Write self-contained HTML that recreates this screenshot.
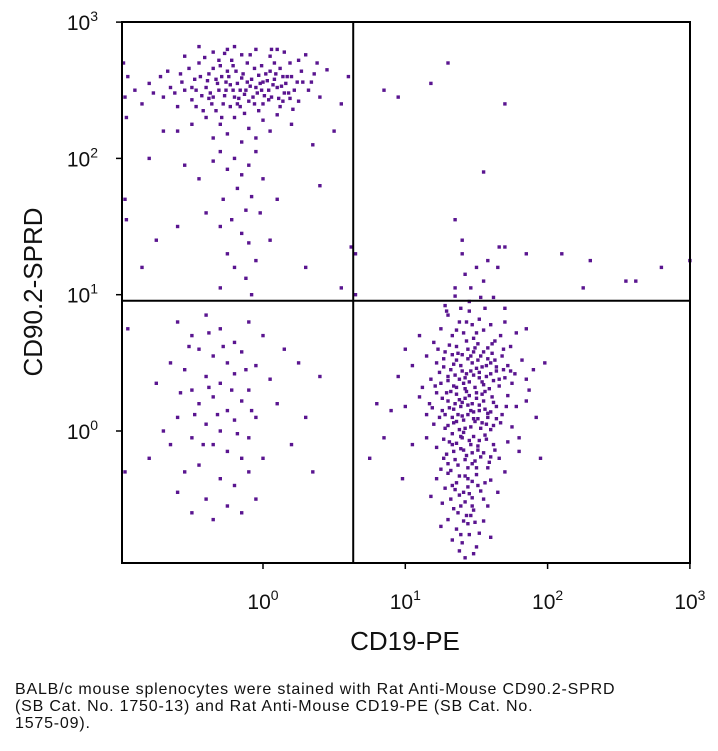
<!DOCTYPE html>
<html><head><meta charset="utf-8"><style>
body{margin:0;background:#fff;width:718px;height:751px;overflow:hidden;font-family:"Liberation Sans",sans-serif}
.cap{position:absolute;left:15px;top:681px;font-size:16px;letter-spacing:0.8px;line-height:17px;color:#111;width:700px;white-space:nowrap}
</style></head><body>
<svg id="chart" width="718" height="680" style="position:absolute;left:0;top:0" font-family="Liberation Sans, sans-serif"></svg>
<div class="cap">BALB/c mouse splenocytes were stained with Rat Anti-Mouse CD90.2-SPRD<br>(SB Cat. No. 1750-13) and Rat Anti-Mouse CD19-PE (SB Cat. No.<br>1575-09).</div>
<script>
const xTicks=[0,1,2,3];
const yTicks=[0,1,2,3];
const gateX=0.634, gateY=0.956;
const bCells=[[1.35,1.05],[1.55,1.1],[1.45,0.95],[1.62,0.98],[1.28,0.92],[1.5,1.2],[1.58,1.25],[1.42,1.15],[1.66,1.35],[1.4,1.3],[1.7,0.9],
[1.3,0.85],[1.38,0.8],[1.45,0.88],[1.52,0.82],[1.6,0.78],[1.25,0.75],[1.33,0.7],[1.41,0.72],[1.48,0.68],[1.55,0.74],[1.63,0.66],[1.7,0.8],[1.78,0.72],[1.2,0.65],[1.36,0.62],[1.44,0.6],[1.51,0.64],[1.58,0.61],[1.67,0.7],[1.85,0.75],[1.1,0.7],[1.29,0.88],[1.47,0.78],[1.56,0.9],[1.74,0.62],
[1.15,0.55],[1.22,0.5],[1.28,0.58],[1.32,0.45],[1.36,0.52],[1.4,0.56],[1.43,0.42],[1.47,0.5],[1.5,0.46],[1.53,0.55],[1.57,0.4],[1.6,0.5],[1.64,0.44],[1.68,0.55],[1.72,0.48],[1.77,0.42],[1.82,0.52],[1.9,0.45],[1.05,0.48],[1.18,0.38],[1.25,0.35],[1.3,0.4],[1.34,0.33],[1.38,0.38],[1.42,0.31],[1.45,0.36],[1.49,0.32],[1.52,0.39],[1.55,0.34],[1.59,0.31],[1.62,0.37],[1.66,0.33],[1.7,0.39],[1.75,0.35],[1.85,0.38],[1.27,0.47],[1.39,0.48],[1.44,0.53],[1.48,0.58],[1.54,0.47],[1.61,0.57],[1.35,0.41],[1.46,0.44],[1.51,0.52],[1.41,0.35],[1.57,0.48],[1.63,0.52],[1.33,0.56],[1.24,0.43],[1.69,0.45],[1.12,0.32],[0.95,0.4],[1.98,0.5],
[1.1,0.25],[1.17,0.2],[1.22,0.28],[1.26,0.15],[1.3,0.22],[1.33,0.1],[1.36,0.27],[1.39,0.18],[1.42,0.24],[1.44,0.12],[1.47,0.2],[1.5,0.28],[1.52,0.15],[1.55,0.22],[1.58,0.1],[1.61,0.25],[1.64,0.18],[1.68,0.12],[1.72,0.26],[1.78,0.18],[1.85,0.22],[1.2,0.05],[1.28,0.02],[1.34,0.06],[1.38,0.01],[1.41,0.08],[1.46,0.03],[1.49,0.07],[1.53,0.02],[1.57,0.05],[1.62,0.04],[1.67,0.06],[1.75,0.03],[1.31,0.17],[1.37,0.12],[1.43,0.29],[1.48,0.14],[1.51,0.09],[1.56,0.16],[1.4,0.21],[1.45,0.26],[1.35,0.2],[1.54,0.27],[1.6,0.14],[1.29,0.28],[1.24,0.1],[1.15,0.12],[1.0,0.18],[0.9,0.15],[1.92,0.1],
[1.15,-0.05],[1.22,-0.12],[1.27,-0.2],[1.31,-0.08],[1.34,-0.15],[1.37,-0.25],[1.4,-0.05],[1.43,-0.18],[1.46,-0.1],[1.49,-0.22],[1.52,-0.07],[1.55,-0.16],[1.58,-0.27],[1.62,-0.1],[1.66,-0.2],[1.72,-0.08],[1.8,-0.15],[1.25,-0.28],[1.33,-0.02],[1.39,-0.13],[1.44,-0.27],[1.48,-0.04],[1.51,-0.14],[1.56,-0.03],[1.36,-0.09],[1.42,-0.21],[1.3,-0.24],[1.6,-0.19],[1.05,-0.1],[1.95,-0.2],[1.41,-0.01],[1.47,-0.16],
[1.22,-0.35],[1.28,-0.42],[1.32,-0.5],[1.36,-0.38],[1.39,-0.55],[1.42,-0.33],[1.45,-0.46],[1.48,-0.58],[1.51,-0.4],[1.55,-0.5],[1.6,-0.36],[1.65,-0.45],[1.3,-0.31],[1.38,-0.47],[1.44,-0.41],[1.5,-0.32],[1.34,-0.57],[1.58,-0.55],[1.7,-0.3],[1.18,-0.48],[1.42,-0.52],[1.47,-0.37],[1.26,-0.53],
[1.3,-0.65],[1.36,-0.72],[1.4,-0.82],[1.44,-0.68],[1.48,-0.9],[1.52,-0.75],[1.38,-0.88],[1.46,-0.62],[1.33,-0.8],[1.55,-0.66],[1.42,-0.93],[1.5,-0.85],[1.25,-0.7],[1.6,-0.78],
[0.85,-0.05],[0.75,-0.2],[0.8,0.2],[1.8,-0.05],[1.87,0.3],[0.98,-0.35],[1.0,0.6],
[1.31,0.63],[1.37,0.57],[1.43,0.66],[1.49,0.61],[1.55,0.58],[1.61,0.64],[1.27,0.53],[1.34,0.49],[1.4,0.44],[1.46,0.55],[1.52,0.43],[1.58,0.53],[1.64,0.47],[1.3,0.37],[1.36,0.32],[1.42,0.39],[1.48,0.41],[1.54,0.36],[1.6,0.42],[1.66,0.38],[1.26,0.24],[1.32,0.29],[1.38,0.23],[1.44,0.19],[1.5,0.24],[1.56,0.29],[1.62,0.21],[1.28,0.12],[1.34,0.16],[1.4,0.11],[1.46,0.15],[1.52,0.19],[1.58,0.13],[1.64,0.09],[1.3,0.04],[1.36,0.07],[1.42,0.02],[1.48,0.09],[1.54,0.06],[1.6,0.01],[1.27,-0.06],[1.33,-0.1],[1.39,-0.04],[1.45,-0.07],[1.51,-0.11],[1.57,-0.06],[1.63,-0.14],[1.29,-0.17],[1.35,-0.21],[1.41,-0.14],[1.47,-0.24],[1.53,-0.19],[1.59,-0.23],[1.32,-0.29],[1.38,-0.33],[1.44,-0.35],[1.5,-0.27],[1.56,-0.38],[1.35,-0.43],[1.41,-0.45],[1.47,-0.49],[1.53,-0.44],[1.37,-0.6],[1.43,-0.62],[1.49,-0.67],[1.45,-0.76],[1.39,-0.76],[1.41,-0.66],[1.47,-0.55],[1.33,-0.4],[1.21,0.33],[1.19,0.17],[1.71,0.18],[1.74,0.44],[1.69,0.6],[1.23,0.6],[1.36,0.74],[1.5,0.72],[1.43,0.8],[1.39,0.9],[1.53,0.98],[1.46,1.05],[1.35,0.99]];
const tCells=[[-0.9,2.5],[-0.85,2.4],[-0.95,2.6],[-0.8,2.55],[-0.7,2.45],[-0.72,2.6],[-0.65,2.52],[-0.6,2.38],[-0.58,2.62],[-0.55,2.5],[-0.5,2.43],[-0.48,2.58],[-0.45,2.7],[-0.42,2.35],[-0.4,2.52],[-0.38,2.62],[-0.35,2.45],[-0.32,2.55],[-0.3,2.68],[-0.28,2.4],[-0.26,2.5],[-0.24,2.6],[-0.22,2.72],[-0.2,2.45],[-0.18,2.55],[-0.16,2.38],[-0.14,2.62],[-0.12,2.5],[-0.1,2.42],[-0.08,2.58],[-0.06,2.66],[-0.04,2.48],[-0.02,2.55],[0.0,2.4],[0.02,2.62],[0.04,2.5],[0.06,2.45],[0.08,2.58],[0.1,2.52],[0.12,2.66],[0.14,2.42],[0.16,2.55],[0.18,2.48],[0.2,2.6],[0.22,2.5],[0.25,2.42],[0.28,2.56],[0.32,2.5],[0.36,2.62],[0.4,2.45],
[-0.35,2.78],[-0.25,2.8],[-0.15,2.76],[-0.05,2.8],[0.05,2.75],[0.15,2.78],[0.25,2.72],[-0.45,2.82],[-0.55,2.75],[0.1,2.8],[-0.2,2.82],[0.3,2.76],
[-0.4,2.3],[-0.3,2.25],[-0.2,2.3],[-0.1,2.22],[0.0,2.28],[0.1,2.32],[-0.25,2.18],[-0.15,2.12],[-0.05,2.15],[0.05,2.2],[-0.35,2.15],[-0.5,2.25],[-0.6,2.2],[0.2,2.25],
[-0.3,2.05],[-0.2,2.0],[-0.1,1.95],[-0.15,1.88],[-0.05,2.05],[-0.25,1.92],[-0.35,1.98],[0.0,1.85],[-0.18,1.78],[-0.08,1.72],[-0.28,1.7],[-0.12,1.62],[-0.22,1.55],[-0.02,1.6],[-0.3,1.5],[-0.15,1.45],[-0.1,1.38],[-0.25,1.3],[-0.05,1.25],[-0.2,1.2],[-0.12,1.12],[-0.3,1.05],[-0.08,1.0],[-0.4,1.6],[0.05,1.4],[-0.45,1.85],[0.1,1.7],[-0.55,1.95],
[-0.37,2.48],[-0.33,2.58],[-0.27,2.46],[-0.23,2.54],[-0.19,2.64],[-0.13,2.47],[-0.09,2.53],[-0.03,2.61],[0.01,2.46],[0.07,2.54],[0.11,2.44],[0.17,2.6],[-0.29,2.6],[-0.21,2.5],[-0.11,2.56],[-0.01,2.5],[0.09,2.62],[-0.39,2.57],[-0.17,2.44],[0.03,2.57],[-0.07,2.45],[0.13,2.53],[-0.31,2.5],[-0.43,2.46],[0.19,2.44],[-0.25,2.64],[-0.15,2.59],[-0.05,2.52],[0.05,2.64],[-0.35,2.66],
[-0.98,2.7],[-0.97,2.45],[-0.96,2.3],[-0.97,1.7],[-0.96,1.55],[-0.95,0.75],[-0.97,-0.3],
[-0.7,2.2],[-0.8,2.0],[-0.75,1.4],[-0.6,1.5],[-0.85,1.2],[0.35,2.1],[0.4,1.8],[0.5,2.2],[0.3,1.2],[0.55,1.05],[0.6,2.6],[0.45,2.65],[0.55,2.4],[0.65,1.0],
[-0.57,2.56],[-0.52,2.66],[-0.47,2.5],[-0.44,2.6],[-0.41,2.74],[-0.36,2.4],[-0.31,2.72],[-0.26,2.56],[-0.21,2.68],[-0.16,2.5],[-0.11,2.7],[-0.06,2.4],[-0.01,2.68],[0.04,2.43],[0.08,2.7],[0.14,2.6],[0.19,2.7],[0.24,2.56],[0.27,2.64],[0.21,2.36],[0.15,2.48],[-0.03,2.35],[-0.13,2.33],[-0.23,2.38],[-0.33,2.35],[-0.47,2.38],[-0.62,2.48],[-0.67,2.64],[-0.77,2.48],[-0.5,2.52],[0.34,2.56],[0.38,2.7],[-0.27,2.77],[-0.09,2.76],[0.06,2.8],[-0.38,2.44],[-0.18,2.4],[0.0,2.56],[0.12,2.38],[-0.29,2.3]];
const dnCells=[[-0.6,0.8],[-0.5,0.7],[-0.4,0.85],[-0.3,0.75],[-0.2,0.65],[-0.1,0.8],[0.0,0.7],[-0.45,0.6],[-0.35,0.55],[-0.25,0.5],[-0.15,0.58],[-0.05,0.48],[-0.55,0.45],[-0.65,0.5],[-0.4,0.4],[-0.3,0.35],[-0.2,0.42],[-0.1,0.3],[0.05,0.38],[-0.5,0.3],[-0.45,0.2],[-0.35,0.25],[-0.25,0.15],[-0.15,0.22],[-0.05,0.1],[0.1,0.2],[-0.6,0.1],[-0.4,0.05],[-0.3,0.0],[-0.2,0.08],[-0.1,-0.05],[-0.5,-0.05],[-0.7,0.0],[-0.35,-0.1],[-0.25,-0.15],[-0.15,-0.2],[-0.45,-0.25],[-0.55,-0.3],[-0.3,-0.35],[-0.2,-0.4],[-0.1,-0.3],[0.0,-0.2],[-0.4,-0.5],[-0.6,-0.45],[-0.25,-0.55],[-0.35,-0.65],[-0.15,-0.6],[-0.05,-0.5],[-0.5,-0.6],[-0.42,-0.1],[-0.32,0.12],[-0.22,0.3],[-0.12,0.45],[-0.52,0.62],[-0.38,0.72],[0.15,0.6],[0.25,0.5],[0.3,0.1],[0.2,-0.1],[-0.75,0.35],[-0.8,-0.2],[-0.65,-0.1],[0.4,0.4],[0.35,-0.3],[-0.28,0.62],[-0.18,-0.02],[-0.48,0.12],[-0.38,0.32],[-0.08,0.15],[-0.58,0.28]];
const otherCells=[[0.95,2.45],[1.3,2.7],[1.7,2.4],[1.55,1.9],[1.35,1.55],[1.4,1.4],[1.85,1.3],[2.1,1.3],[2.3,1.25],[2.55,1.1],[2.8,1.2],[3.0,1.25],[2.25,1.05],[2.62,1.1],[1.18,2.55],[0.85,2.5],[1.65,1.2],[1.7,1.35],[0.65,1.3],[0.62,1.35]];

const L=122,T=22,R=690,B=563;
const xs=v=>263+v*142.3, ys=v=>431-v*136.3;
const NS="http://www.w3.org/2000/svg";
const svg=document.getElementById('chart');
function mk(t,a,p){const e=document.createElementNS(NS,t);for(const k in a)e.setAttribute(k,a[k]);(p||svg).appendChild(e);return e;}
const dots=mk('g',{});


[bCells,tCells,dnCells,otherCells].forEach(arr=>arr.forEach(p=>{
  const x=xs(p[0]),y=ys(p[1]);
  if(x<L||x>R||y<T||y>B)return;
  const r=mk('rect',{x:(x-1.7).toFixed(1),y:(y-1.7).toFixed(1),width:3.4,height:3.4,fill:'#5a1590'},dots);
  
  
}));
const frame=mk('rect',{x:L,y:T,width:R-L,height:B-T,fill:'none',stroke:'#000','stroke-width':2});


const gv=mk('line',{x1:xs(gateX),x2:xs(gateX),y1:T,y2:B,stroke:'#000','stroke-width':2});


const gh=mk('line',{x1:L,x2:R,y1:ys(gateY),y2:ys(gateY),stroke:'#000','stroke-width':2});


xTicks.forEach(v=>{
  const x=xs(v);
  const tk=mk('line',{x1:x,x2:x,y1:B,y2:B+6,stroke:'#000','stroke-width':1.5});
  
  
  const t=mk('text',{x:x,y:B+46,'text-anchor':'middle','font-size':21,fill:'#111'});
  
  
  t.innerHTML='10<tspan dy="-9" font-size="14">'+v+'</tspan>';
});
yTicks.forEach(v=>{
  const y=ys(v);
  const tk=mk('line',{x1:L-6,x2:L,y1:y,y2:y,stroke:'#000','stroke-width':1.5});
  
  
  const t=mk('text',{x:L-24,y:y+8,'text-anchor':'end','font-size':21,fill:'#111'});
  
  
  t.innerHTML='10<tspan dy="-9" font-size="14">'+v+'</tspan>';
});
const xt=mk('text',{x:405,y:650,'text-anchor':'middle','font-size':26,fill:'#111'});


xt.textContent='CD19-PE';
const yt=mk('text',{x:0,y:0,'text-anchor':'middle','font-size':26,fill:'#111',transform:'translate(42,292) rotate(-90)'});


yt.textContent='CD90.2-SPRD';
</script>
</body></html>
